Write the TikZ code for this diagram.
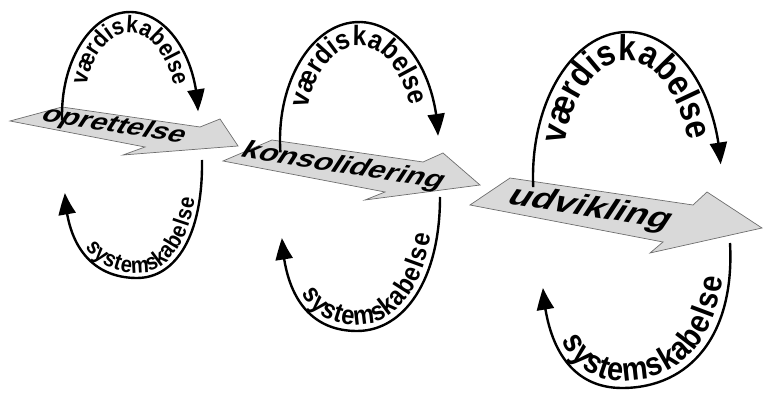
\documentclass[tikz,border=0pt]{standalone}
\usepackage{fontspec}
\setmainfont{Liberation Sans}
\newfontfamily\loopfont[FakeStretch=0.88]{Liberation Sans Bold}
\usetikzlibrary{arrows.meta,bending,decorations.text}
\definecolor{arrowfill}{HTML}{D9D9D9}
\definecolor{arrowedge}{HTML}{6E6E6E}
\tikzset{
  stagearrow/.style={
    draw=arrowedge, fill=arrowfill, line width=0.7pt, line join=miter
  },
  stagetext/.style={
    font=\bfseries\fontsize{#1}{#1}\selectfont,
    inner sep=0pt, xslant=0.45, yscale=0.8
  },
  stagetext/.default=28,
  looparc/.style={line width=2.4pt},
  headend/.style={-{Triangle[length=22pt,width=17pt,bend]}},
  headstart/.style={{Triangle[length=22pt,width=17pt,bend]}-},
}

\begin{document}
\begin{tikzpicture}[x=1pt, y=1pt]
  \useasboundingbox (0,0) rectangle (763,399);

  % the three stages
  \filldraw[stagearrow] (10,278) -- (62,292) -- (200,272) -- (220,280)
    -- (238,253) -- (123,244) -- (145,252) -- cycle;
  \filldraw[stagearrow] (223,238) -- (272,259) -- (423,237) -- (443,246)
    -- (480,214) -- (365,199) -- (385,207) -- cycle;
  \filldraw[stagearrow] (470,194) -- (510,221) -- (693,194) -- (707,207)
    -- (762,171) -- (650,146) -- (663,157) -- cycle;
  \node[rotate=-9, stagetext=30] (opret) at (114,273) {oprettelse};
  \node[rotate=-9, stagetext=31] (konsol) at (343,232) {konsolidering};
  \node[rotate=-9, stagetext=37] (udvik) at (590,190) {udvikling};

  % centres of the upper loops
  \coordinate (vaerdi1) at (130,284);
  \coordinate (vaerdi2) at (359,259);
  \coordinate (vaerdi3) at (627,222);

  % upper loops
  \draw[looparc, headend] (vaerdi1) ++(183:68 and 103)
    arc[start angle=183, end angle=2, x radius=68, y radius=103];
  \path[decorate, decoration={text along path, text align=center,
      text={|\loopfont\fontsize{24}{24}\selectfont|værdiskabelse}}]
    (vaerdi1) ++(174:47 and 82)
    arc[start angle=174, end angle=6, x radius=47, y radius=82];
  \draw[looparc, headend] (vaerdi2) ++(186:79 and 118)
    arc[start angle=186, end angle=2, x radius=79, y radius=118];
  \path[decorate, decoration={text along path, text align=center,
      text={|\loopfont\fontsize{28}{28}\selectfont|værdiskabelse}}]
    (vaerdi2) ++(176:55 and 94)
    arc[start angle=176, end angle=6, x radius=55, y radius=94];
  \draw[looparc, headend] (vaerdi3) ++(184:94 and 145)
    arc[start angle=184, end angle=5, x radius=94, y radius=145];
  \path[decorate, decoration={text along path, text align=center,
      text={|\loopfont\fontsize{36}{36}\selectfont|værdiskabelse}}]
    (vaerdi3) ++(176:65 and 116)
    arc[start angle=176, end angle=6, x radius=65, y radius=116];

  % lower loops
  \coordinate (sys1a) at (65,206);
  \coordinate (sys1b) at (137,121);
  \coordinate (sys1c) at (202,239);
  \draw[looparc, headstart] (sys1a) .. controls (67,150) and (95,121) .. (sys1b)
    .. controls (176,121) and (203,164) .. (sys1c);
  \path[decorate, decoration={text along path, raise=5pt,
      text align={center, left indent=20pt},
      text={|\loopfont\fontsize{23}{23}\selectfont\kern1.5pt|systemskabelse}}]
    (sys1a) .. controls (67,150) and (95,121) .. (sys1b)
    .. controls (176,121) and (203,164) .. (sys1c);
  \coordinate (sys2a) at (282,161);
  \coordinate (sys2b) at (357,68);
  \coordinate (sys2c) at (440,202);
  \draw[looparc, headstart] (sys2a) .. controls (285,100) and (312,68) .. (sys2b)
    .. controls (404,68) and (440,119) .. (sys2c);
  \path[decorate, decoration={text along path, raise=6pt,
      text align={center, left indent=20pt},
      text={|\loopfont\fontsize{27}{27}\selectfont\kern2pt|systemskabelse}}]
    (sys2a) .. controls (285,100) and (312,68) .. (sys2b)
    .. controls (404,68) and (440,119) .. (sys2c);
  \coordinate (sys3a) at (543,111);
  \coordinate (sys3b) at (622,11);
  \coordinate (sys3c) at (730,156);
  \draw[looparc, headstart] (sys3a) .. controls (547,50) and (573,11) .. (sys3b)
    .. controls (690,11) and (735,64) .. (sys3c);
  \path[decorate, decoration={text along path, raise=7pt,
      text align={center, left indent=20pt},
      text={|\loopfont\fontsize{33}{33}\selectfont\kern2.5pt|systemskabelse}}]
    (sys3a) .. controls (547,50) and (573,11) .. (sys3b)
    .. controls (690,11) and (735,64) .. (sys3c);
\end{tikzpicture}
\end{document}
